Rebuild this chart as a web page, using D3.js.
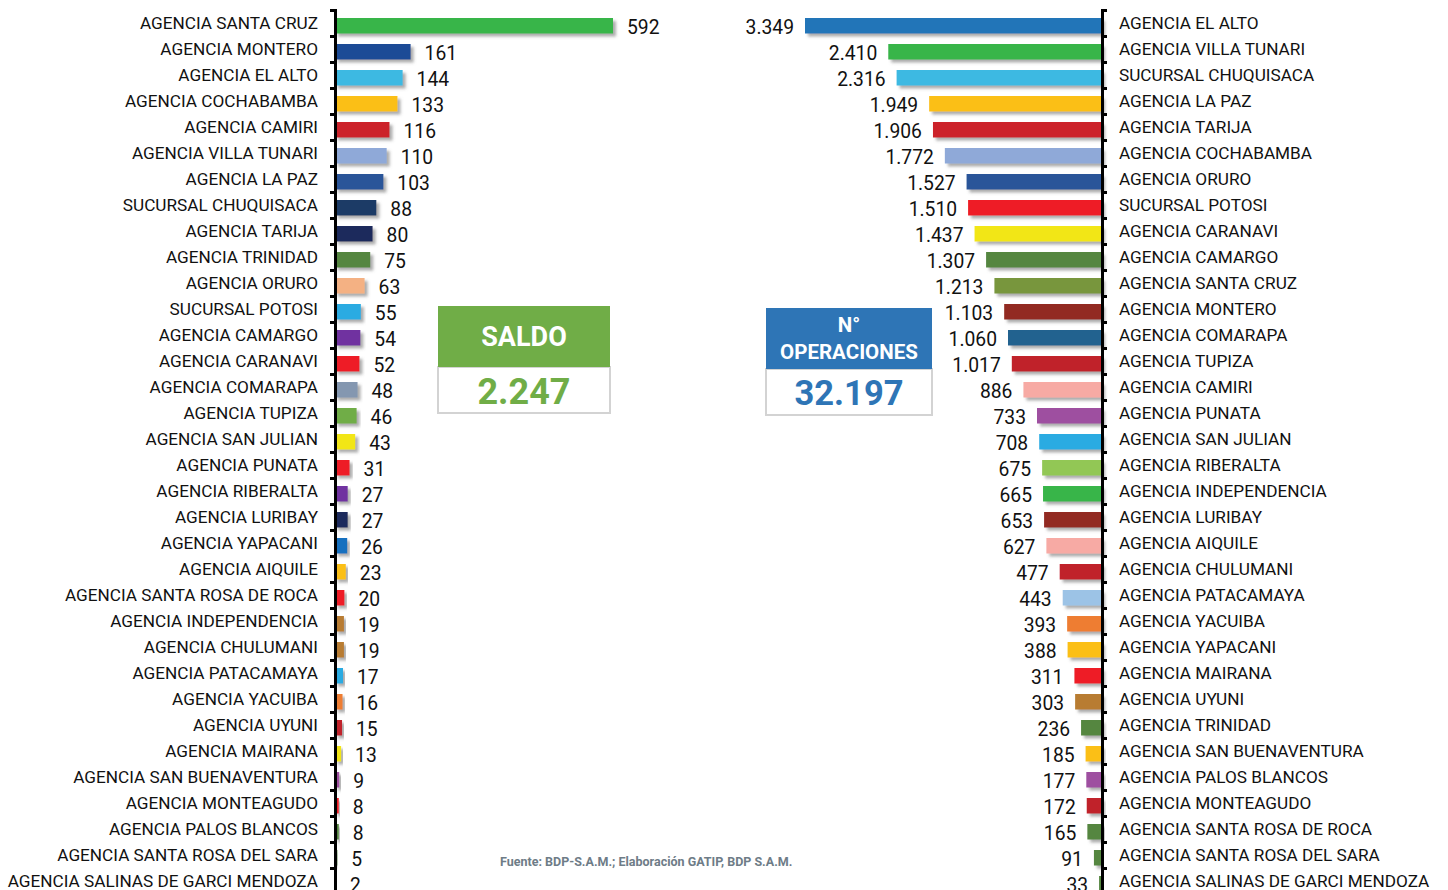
<!DOCTYPE html>
<html>
<head>
<meta charset="utf-8">
<script src="https://cdn.jsdelivr.net/npm/d3@7"></script>
<style>
  body { margin: 0; background: #fff; }
  text { font-family: Roboto, "Open Sans", sans-serif; }
</style>
</head>
<body>
<script>
// saldo por agencia (izquierda)
var saldoAgencias = ["AGENCIA SANTA CRUZ","AGENCIA MONTERO","AGENCIA EL ALTO","AGENCIA COCHABAMBA","AGENCIA CAMIRI",
  "AGENCIA VILLA TUNARI","AGENCIA LA PAZ","SUCURSAL CHUQUISACA","AGENCIA TARIJA","AGENCIA TRINIDAD","AGENCIA ORURO",
  "SUCURSAL POTOSI","AGENCIA CAMARGO","AGENCIA CARANAVI","AGENCIA COMARAPA","AGENCIA TUPIZA","AGENCIA SAN JULIAN",
  "AGENCIA PUNATA","AGENCIA RIBERALTA","AGENCIA LURIBAY","AGENCIA YAPACANI","AGENCIA AIQUILE","AGENCIA SANTA ROSA DE ROCA",
  "AGENCIA INDEPENDENCIA","AGENCIA CHULUMANI","AGENCIA PATACAMAYA","AGENCIA YACUIBA","AGENCIA UYUNI","AGENCIA MAIRANA",
  "AGENCIA SAN BUENAVENTURA","AGENCIA MONTEAGUDO","AGENCIA PALOS BLANCOS","AGENCIA SANTA ROSA DEL SARA",
  "AGENCIA SALINAS DE GARCI MENDOZA"];
var saldoValores = [592,161,144,133,116,110,103,88,80,75,63,55,54,52,48,46,43,31,27,27,26,23,20,19,19,17,16,15,13,9,8,8,5,2];

// numero de operaciones por agencia (derecha)
var operAgencias = ["AGENCIA EL ALTO","AGENCIA VILLA TUNARI","SUCURSAL CHUQUISACA","AGENCIA LA PAZ","AGENCIA TARIJA",
  "AGENCIA COCHABAMBA","AGENCIA ORURO","SUCURSAL POTOSI","AGENCIA CARANAVI","AGENCIA CAMARGO","AGENCIA SANTA CRUZ",
  "AGENCIA MONTERO","AGENCIA COMARAPA","AGENCIA TUPIZA","AGENCIA CAMIRI","AGENCIA PUNATA","AGENCIA SAN JULIAN",
  "AGENCIA RIBERALTA","AGENCIA INDEPENDENCIA","AGENCIA LURIBAY","AGENCIA AIQUILE","AGENCIA CHULUMANI","AGENCIA PATACAMAYA",
  "AGENCIA YACUIBA","AGENCIA YAPACANI","AGENCIA MAIRANA","AGENCIA UYUNI","AGENCIA TRINIDAD","AGENCIA SAN BUENAVENTURA",
  "AGENCIA PALOS BLANCOS","AGENCIA MONTEAGUDO","AGENCIA SANTA ROSA DE ROCA","AGENCIA SANTA ROSA DEL SARA",
  "AGENCIA SALINAS DE GARCI MENDOZA"];
var operValores = [3349,2410,2316,1949,1906,1772,1527,1510,1437,1307,1213,1103,1060,1017,886,733,708,675,665,653,627,
  477,443,393,388,311,303,236,185,177,172,165,91,33];

var totalSaldo = 2247;
var totalOper = 32197;

var saldoColores = ["#39b54a","#1c4b96","#3cb9e2","#fbbf16","#cc2229","#8fa9d8","#2a5599","#1d3a66","#1f2a5c","#548640",
  "#f4b183","#29abe2","#7030a0","#ee1c25","#8497b0","#70ad47","#f2e616","#ee1c25","#7030a0","#1f2a5c","#1270bf",
  "#fbbf16","#ee1c25","#b87c33","#b87c33","#29abe2","#ee7d31","#c0202a","#f2e616","#9e4fa0","#ee1c25","#548640",
  "#548640","#548640"];
var operColores = ["#2474b8","#39b54a","#3cb9e2","#fbbf16","#cc2229","#8fa9d8","#2a5599","#ee1c25","#f2e616","#548640",
  "#78963c","#922a22","#22628f","#c0202a","#f7aaa4","#9e4fa0","#29abe2","#92c755","#39b54a","#922a22","#f7aaa4",
  "#c0202a","#9cc3e6","#ee7d31","#fbbf16","#ee1c25","#b87c33","#548640","#fbbf16","#9e4fa0","#c0202a","#548640",
  "#548640","#548640"];

var fmt = d3.formatLocale({decimal: ",", thousands: ".", grouping: [3], currency: ["", ""]}).format(",d");

var svg = d3.select("body").append("svg")
    .attr("width", 1448)
    .attr("height", 890);

var defs = svg.append("defs");
defs.append("filter").attr("id", "sombra")
    .attr("x", "-20%").attr("y", "-30%").attr("width", "140%").attr("height", "190%")
  .append("feDropShadow")
    .attr("dx", 3).attr("dy", 3).attr("stdDeviation", 1.6)
    .attr("flood-color", "#666").attr("flood-opacity", 0.55);

var nFilas = saldoValores.length;

// filas: cada una mide 26px, empezando en y=10
var y = d3.scaleBand()
    .domain(d3.range(nFilas))
    .range([10, 10 + 26 * nFilas])
    .paddingInner(0);

var yTicks = d3.scaleLinear().domain([0, nFilas]).range([10, 10 + 26 * nFilas]);

// ---- izquierda: saldo ----
var ejeIzq = 335;
var xIzq = d3.scaleLinear().domain([0, 592]).range([ejeIzq, ejeIzq + 278]);

var gIzq = svg.append("g");

gIzq.selectAll("rect")
    .data(saldoValores)
    .enter().append("rect")
    .attr("x", ejeIzq)
    .attr("y", function(d, i){ return y(i) + 8 })
    .attr("width", function(d){ return xIzq(d) - ejeIzq })
    .attr("height", 15.5)
    .attr("fill", function(d, i){ return saldoColores[i] })
    .attr("filter", "url(#sombra)");

gIzq.selectAll("text.valor")
    .data(saldoValores)
    .enter().append("text")
    .attr("class", "valor")
    .attr("x", function(d){ return xIzq(d) + 14 })
    .attr("y", function(d, i){ return y(i) + 17.5 })
    .attr("dy", "0.35em")
    .attr("font-size", 19.3)
    .attr("fill", "#111")
    .text(function(d){ return fmt(d) });

gIzq.selectAll("text.nombre")
    .data(saldoAgencias)
    .enter().append("text")
    .attr("class", "nombre")
    .attr("x", 318)
    .attr("y", function(d, i){ return y(i) + 13 })
    .attr("dy", "0.35em")
    .attr("text-anchor", "end")
    .attr("font-size", 17.2)
    .attr("fill", "#111")
    .text(function(d){ return d });

var axIzq = svg.append("g")
    .attr("transform", "translate(" + ejeIzq + ",0)")
    .call(d3.axisLeft(yTicks).tickValues(d3.range(0, nFilas + 1)).tickFormat("").tickSize(5).tickSizeOuter(5));
axIzq.selectAll("path, line").attr("stroke", "#000").attr("stroke-width", 3);

// ---- derecha: operaciones ----
var ejeDer = 1102;
var xDer = d3.scaleLinear().domain([0, 3349]).range([ejeDer, ejeDer - 297]);

var gDer = svg.append("g");

gDer.selectAll("rect")
    .data(operValores)
    .enter().append("rect")
    .attr("x", function(d){ return xDer(d) })
    .attr("y", function(d, i){ return y(i) + 8 })
    .attr("width", function(d){ return ejeDer - xDer(d) })
    .attr("height", 15.5)
    .attr("fill", function(d, i){ return operColores[i] })
    .attr("filter", "url(#sombra)");

gDer.selectAll("text.valor")
    .data(operValores)
    .enter().append("text")
    .attr("class", "valor")
    .attr("x", function(d){ return xDer(d) - 11 })
    .attr("y", function(d, i){ return y(i) + 17.5 })
    .attr("dy", "0.35em")
    .attr("text-anchor", "end")
    .attr("font-size", 19.3)
    .attr("fill", "#111")
    .text(function(d){ return fmt(d) });

gDer.selectAll("text.nombre")
    .data(operAgencias)
    .enter().append("text")
    .attr("class", "nombre")
    .attr("x", 1119)
    .attr("y", function(d, i){ return y(i) + 13 })
    .attr("dy", "0.35em")
    .attr("font-size", 17.2)
    .attr("fill", "#111")
    .text(function(d){ return d });

var axDer = svg.append("g")
    .attr("transform", "translate(" + ejeDer + ",0)")
    .call(d3.axisRight(yTicks).tickValues(d3.range(0, nFilas + 1)).tickFormat("").tickSize(5).tickSizeOuter(5));
axDer.selectAll("path, line").attr("stroke", "#000").attr("stroke-width", 3);

// ---- cuadros de totales ----
function cuadro(x0, y0, w, hCab, hVal, color, titulo, valor, tamValor) {
    var g = svg.append("g");
    g.append("rect").attr("x", x0).attr("y", y0 + hCab).attr("width", w).attr("height", hVal)
        .attr("fill", "#fff").attr("stroke", "#d3d3d3").attr("stroke-width", 2);
    g.append("rect").attr("x", x0).attr("y", y0).attr("width", w).attr("height", hCab)
        .attr("fill", color);
    var t = g.append("text")
        .attr("text-anchor", "middle")
        .attr("font-weight", "bold")
        .attr("fill", "#fff");
    titulo.forEach(function(linea, k){
        t.append("tspan")
            .attr("x", x0 + w / 2)
            .attr("y", linea.y)
            .attr("dy", "0.35em")
            .attr("font-size", linea.size)
            .text(linea.txt);
    });
    g.append("text")
        .attr("x", x0 + w / 2)
        .attr("y", y0 + hCab + hVal / 2 + 1)
        .attr("dy", "0.35em")
        .attr("text-anchor", "middle")
        .attr("font-weight", "bold")
        .attr("font-size", tamValor)
        .attr("fill", color)
        .text(fmt(valor));
}

cuadro(438, 306, 172, 61, 46, "#70ad47", [{txt: "SALDO", y: 337, size: 27}], totalSaldo, 36);
cuadro(766, 308, 166, 61, 46, "#2e75b6",
    [{txt: "N°", y: 325, size: 20.5}, {txt: "OPERACIONES", y: 352, size: 20.5}], totalOper, 34.5);

svg.append("text")
    .attr("x", 500)
    .attr("y", 862)
    .attr("dy", "0.35em")
    .attr("font-size", 12.5)
    .attr("font-weight", "bold")
    .attr("fill", "#6e7c87")
    .text("Fuente: BDP-S.A.M.; Elaboración GATIP, BDP S.A.M.");
</script>
</body>
</html>
